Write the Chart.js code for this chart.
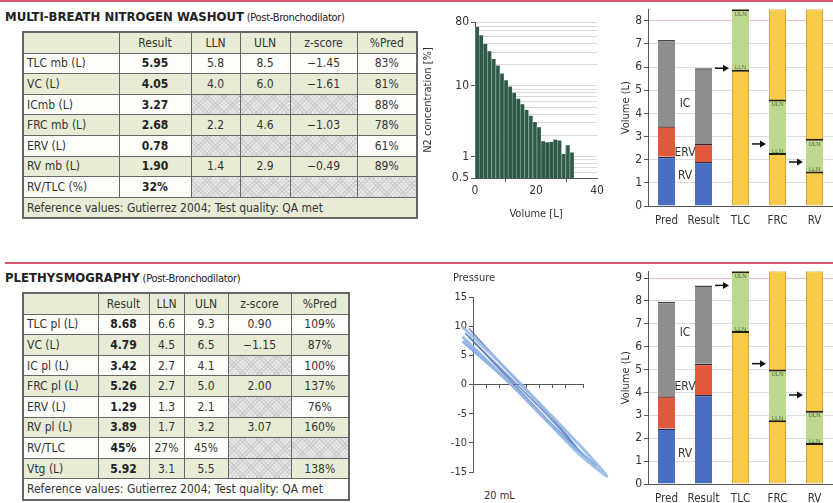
<!DOCTYPE html>
<html>
<head>
<meta charset="utf-8">
<script src="https://cdn.jsdelivr.net/npm/chart.js@4.4.0/dist/chart.umd.min.js"></script>
<style>
  body { margin: 0; width: 833px; height: 503px; position: relative; overflow: hidden; background: #fff;
         font-family: 'Liberation Sans Narrow', 'DejaVu Sans Condensed', 'Arial Narrow', sans-serif; color: #333; }
  .rule { position: absolute; height: 2px; background: #d9586e; }
  .title { position: absolute; left: 5px; font-size: 11px; letter-spacing: -0.3px; color: #222; white-space: nowrap; }
  .title b { font-weight: bold; font-size: 13px; letter-spacing: 0; }
  table { position: absolute; border-collapse: collapse; border: 2px solid #666; font-size: 12px; table-layout: fixed; }
  td { border: 1px solid #666; text-align: center; padding: 0; height: 19.6px; line-height: 18px; white-space: nowrap; overflow: hidden; }
  td.l { text-align: left; padding-left: 3px; }
  tr.g td { background: #e8ecd6; }
  tr.w td { background: #fdfdfa; }
  td.r { font-weight: bold; color: #222; }
  td.h { background: repeating-linear-gradient(45deg, #c8c8c8 0 1px, transparent 1px 3px),
                     repeating-linear-gradient(-45deg, #c8c8c8 0 1px, #f2f2f2 1px 3px) !important; }
  canvas { position: absolute; }
  .lbl { position: absolute; font-size: 11px; color: #333; }
</style>
</head>
<body>
<div class="rule" style="left:0;top:0;width:833px"></div>
<div class="title" style="top:9px"><b>MULTI-BREATH NITROGEN WASHOUT</b> (Post-Bronchodilator)</div>

<table style="left:22px;top:31px;width:396px">
  <colgroup><col style="width:96px"><col style="width:72px"><col style="width:49px"><col style="width:50px"><col style="width:67px"><col style="width:60px"></colgroup>
  <tr class="g"><td></td><td>Result</td><td>LLN</td><td>ULN</td><td>z-score</td><td>%Pred</td></tr>
  <tr class="w"><td class="l">TLC mb (L)</td><td class="r">5.95</td><td>5.8</td><td>8.5</td><td>−1.45</td><td>83%</td></tr>
  <tr class="g"><td class="l">VC (L)</td><td class="r">4.05</td><td>4.0</td><td>6.0</td><td>−1.61</td><td>81%</td></tr>
  <tr class="w"><td class="l">ICmb (L)</td><td class="r">3.27</td><td class="h"></td><td class="h"></td><td class="h"></td><td>88%</td></tr>
  <tr class="g"><td class="l">FRC mb (L)</td><td class="r">2.68</td><td>2.2</td><td>4.6</td><td>−1.03</td><td>78%</td></tr>
  <tr class="w"><td class="l">ERV (L)</td><td class="r">0.78</td><td class="h"></td><td class="h"></td><td class="h"></td><td>61%</td></tr>
  <tr class="g"><td class="l">RV mb (L)</td><td class="r">1.90</td><td>1.4</td><td>2.9</td><td>−0.49</td><td>89%</td></tr>
  <tr class="w"><td class="l">RV/TLC (%)</td><td class="r">32%</td><td class="h"></td><td class="h"></td><td class="h"></td><td class="h"></td></tr>
  <tr class="g"><td class="l" colspan="6">Reference values: Gutierrez 2004; Test quality: QA met</td></tr>
</table>

<div class="rule" style="left:5px;top:262px;width:828px"></div>
<div class="title" style="top:270px"><b>PLETHYSMOGRAPHY</b> (Post-Bronchodilator)</div>

<table style="left:22px;top:292px;width:328px">
  <colgroup><col style="width:75px"><col style="width:51px"><col style="width:35px"><col style="width:44px"><col style="width:63px"><col style="width:58px"></colgroup>
  <tr class="g"><td></td><td>Result</td><td>LLN</td><td>ULN</td><td>z-score</td><td>%Pred</td></tr>
  <tr class="w"><td class="l">TLC pl (L)</td><td class="r">8.68</td><td>6.6</td><td>9.3</td><td>0.90</td><td>109%</td></tr>
  <tr class="g"><td class="l">VC (L)</td><td class="r">4.79</td><td>4.5</td><td>6.5</td><td>−1.15</td><td>87%</td></tr>
  <tr class="w"><td class="l">IC pl (L)</td><td class="r">3.42</td><td>2.7</td><td>4.1</td><td class="h"></td><td>100%</td></tr>
  <tr class="g"><td class="l">FRC pl (L)</td><td class="r">5.26</td><td>2.7</td><td>5.0</td><td>2.00</td><td>137%</td></tr>
  <tr class="w"><td class="l">ERV (L)</td><td class="r">1.29</td><td>1.3</td><td>2.1</td><td class="h"></td><td>76%</td></tr>
  <tr class="g"><td class="l">RV pl (L)</td><td class="r">3.89</td><td>1.7</td><td>3.2</td><td>3.07</td><td>160%</td></tr>
  <tr class="w"><td class="l">RV/TLC</td><td class="r">45%</td><td>27%</td><td>45%</td><td class="h"></td><td class="h"></td></tr>
  <tr class="g"><td class="l">Vtg (L)</td><td class="r">5.92</td><td>3.1</td><td>5.5</td><td class="h"></td><td>138%</td></tr>
  <tr class="w"><td class="l" colspan="6">Reference values: Gutierrez 2004; Test quality: QA met</td></tr>
</table>

<canvas id="n2Chart" width="190" height="217" style="left:420px;top:8px"></canvas>
<canvas id="mbwVolChart" width="213" height="230" style="left:620px;top:0px"></canvas>
<canvas id="pressChart" width="200" height="205" style="left:420px;top:280px"></canvas>
<div class="lbl" style="left:453px;top:271px">Pressure</div>
<div class="lbl" style="left:484px;top:489px">20 mL</div>
<canvas id="plethVolChart" width="213" height="241" style="left:620px;top:262px"></canvas>

<script>
// Nitrogen washout: breath volume (L) and end-tidal N2 (%)
const n2Volume = [0.68, 2.03, 3.38, 4.73, 6.08, 7.43, 8.78, 10.13, 11.48, 12.83, 14.18, 15.53,
                  16.88, 18.23, 19.58, 20.93, 22.28, 23.63, 24.98, 26.33, 27.68, 29.03, 30.38, 31.73];
const n2Conc = [68, 52, 39, 31, 24, 19.5, 15, 12, 9.8, 8.0, 6.6, 5.5,
                4.6, 3.8, 3.1, 2.6, 1.65, 1.6, 1.62, 1.75, 1.7, 1.1, 1.45, 1.15];
const n2Ticks = [0.5, 0.6, 0.7, 0.8, 0.9, 1, 2, 3, 4, 5, 6, 7, 8, 9, 10, 20, 30, 40, 50, 60, 70, 80];
const n2Labels = [0.5, 1, 10, 80];

// Lung volume bars
const volCategories = ['Pred', 'Result', 'TLC', 'FRC', 'RV'];
const mbwRV = [2.13, 1.90];
const mbwERV = [1.31, 0.78];
const mbwIC = [3.73, 3.27];
const mbwLLN = [5.8, 2.2, 1.4];
const mbwULN = [8.5, 4.6, 2.9];
const mbwResult = [5.95, 2.68, 1.90];

const plethRV = [2.43, 3.89];
const plethERV = [1.41, 1.37];
const plethIC = [4.12, 3.42];
const plethLLN = [6.6, 2.7, 1.7];
const plethULN = [9.3, 5.0, 3.2];
const plethResult = [8.68, 5.26, 3.89];

// Plethysmograph pressure/volume loops
const loopAx = [-0.8, 2.0, 5.0, 8.0, 10.1, 8.0, 5.0, 2.0, -0.8];
const loopAy = [9.9, 3.8, -3.2, -10.3, -15.7, -11.9, -4.9, 2.0, 8.2];
const loopBx = [-0.6, 2.5, 5.5, 8.3, 5.5, 2.5, -0.6];
const loopBy = [8.8, 1.8, -5.0, -12.1, -6.0, 0.9, 7.6];
const loopCx = [-0.3, 3.0, 6.0, 7.8, 6.0, 3.0, -0.3];
const loopCy = [9.6, 1.4, -5.8, -10.8, -6.9, 0.2, 8.2];
const loopDx = [-0.8, 2.8, 6.5, 9.3];
const loopDy = [7.4, 0.2, -8.3, -14.0];

Chart.defaults.font.family = "'Liberation Sans Narrow', 'DejaVu Sans Condensed', 'Arial Narrow', sans-serif";
Chart.defaults.font.size = 12;
Chart.defaults.color = '#333';
Chart.defaults.animation = false;
Chart.defaults.responsive = false;
Chart.defaults.plugins.legend.display = false;
Chart.defaults.plugins.tooltip.enabled = false;

new Chart(document.getElementById('n2Chart'), {
    type: 'bar',
    data: {
        datasets: [{
            data: n2Volume.map((v, i) => ({ x: v, y: n2Conc[i] })),
            backgroundColor: '#2d5945',
            borderColor: '#6f9a85',
            borderWidth: { left: 1, top: 0, right: 0, bottom: 0 },
            borderSkipped: false,
            barPercentage: 1,
            categoryPercentage: 1
        }]
    },
    options: {
        layout: { padding: { top: 14, right: 13 } },
        scales: {
            x: {
                type: 'linear', min: 0, max: 40, offset: false,
                ticks: { stepSize: 20, padding: 2 },
                grid: { drawOnChartArea: false, tickLength: 4, color: '#555' },
                border: { color: '#555' },
                title: { display: true, text: 'Volume [L]', font: { size: 11 } },
                afterFit: s => { s.height = 47; }
            },
            y: {
                type: 'logarithmic', min: 0.5, max: 80,
                afterBuildTicks: s => { s.ticks = n2Ticks.map(v => ({ value: v })); },
                ticks: { autoSkip: false, padding: 2, callback: v => n2Labels.includes(v) ? String(v) : '' },
                grid: {
                    color: '#d9d9d9',
                    tickLength: 4,
                    tickColor: c => n2Labels.includes(c.tick && c.tick.value) ? '#555' : 'transparent'
                },
                border: { color: '#555' },
                title: { display: true, text: 'N2 concentration [%]', font: { size: 11 }, padding: 2 },
                afterFit: s => { s.width = 55; }
            }
        }
    }
});

// arrows, LLN/ULN marks and segment labels on the volume bars
const volumeMarks = {
    id: 'volumeMarks',
    afterDatasetsDraw(chart, args, opts) {
        const ctx = chart.ctx;
        const y = chart.scales.y;
        const yellow = chart.getDatasetMeta(4).data;
        ctx.save();
        for (let i = 0; i < 3; i++) {
            const el = yellow[i + 2];
            const left = el.x - el.width / 2;
            const py = y.getPixelForValue(opts.result[i]);
            ctx.strokeStyle = '#111';
            ctx.fillStyle = '#111';
            ctx.lineWidth = 1.5;
            ctx.beginPath();
            ctx.moveTo(left - 17, py);
            ctx.lineTo(left - 7, py);
            ctx.stroke();
            ctx.beginPath();
            ctx.moveTo(left - 3, py);
            ctx.lineTo(left - 9, py - 3.5);
            ctx.lineTo(left - 9, py + 3.5);
            ctx.closePath();
            ctx.fill();
            // tiny range labels
            ctx.font = '6px sans-serif';
            ctx.fillStyle = '#556b3a';
            ctx.textAlign = 'center';
            ctx.textBaseline = 'top';
            ctx.fillText('ULN', el.x, y.getPixelForValue(opts.uln[i]) + 2);
            ctx.textBaseline = 'bottom';
            ctx.fillText('LLN', el.x, y.getPixelForValue(opts.lln[i]) - 1);
        }
        const segs = chart.getDatasetMeta(0).data;
        const midX = ((segs[0].x + segs[0].width / 2) + (segs[1].x - segs[1].width / 2)) / 2;
        ctx.font = "12px 'Liberation Sans Narrow', 'DejaVu Sans Condensed', sans-serif";
        ctx.fillStyle = '#333';
        ctx.textAlign = 'center';
        ctx.textBaseline = 'middle';
        opts.labels.forEach(l => ctx.fillText(l.text, midX, y.getPixelForValue(l.at)));
        ctx.restore();
    }
};

function volumeChart(id, rv, erv, ic, lln, uln, result, yMax, xPad, xHeight, labels) {
    const base1 = [rv[0], rv[1]];
    const top2 = [rv[0] + erv[0], rv[1] + erv[1]];
    const seg = (a, b) => [[a[0], b[0]], [a[1], b[1]], null, null, null];
    const segBorder = { top: 1.5, left: 0, right: 0, bottom: 0 };
    return new Chart(document.getElementById(id), {
        type: 'bar',
        data: {
            labels: volCategories,
            datasets: [
                { data: seg([0, 0], base1), backgroundColor: '#4a6fc2', borderColor: '#2a2f55', borderWidth: segBorder, borderSkipped: false, order: 1 },
                { data: seg(base1, top2), backgroundColor: '#e2583c', borderColor: '#3a2222', borderWidth: segBorder, borderSkipped: false, order: 1 },
                { data: seg(top2, [top2[0] + ic[0], top2[1] + ic[1]]), backgroundColor: '#8e8e8e', borderColor: '#444', borderWidth: segBorder, borderSkipped: false, order: 1 },
                { data: [null, null, [lln[0], uln[0]], [lln[1], uln[1]], [lln[2], uln[2]]], backgroundColor: '#bcd88f', borderColor: '#1e1e1e', borderWidth: { top: 2, bottom: 2, left: 0, right: 0 }, borderSkipped: false, order: 1 },
                { data: [null, null, [0, yMax], [0, yMax], [0, yMax]], backgroundColor: '#f8cb48', borderColor: '#d7a43c', borderWidth: 1, borderSkipped: false, order: 2 }
            ]
        },
        options: {
            layout: { padding: { top: 7, right: 0 } },
            datasets: { bar: { barPercentage: 0.46, categoryPercentage: 1 } },
            scales: {
                x: {
                    stacked: true,
                    grid: { display: false },
                    border: { color: '#555' },
                    ticks: { padding: xPad, maxRotation: 0, minRotation: 0, autoSkip: false, font: { size: 11.5 } },
                    afterFit: s => { s.height = xHeight; }
                },
                y: {
                    stacked: false, min: 0, max: yMax,
                    ticks: { stepSize: 1, includeBounds: false, padding: 2 },
                    grid: {
                        color: c => (c.tick && c.tick.value === Math.floor(yMax)) ? '#f2bcc5' : '#dcdcdc',
                        tickLength: 4, tickColor: '#555'
                    },
                    border: { color: '#555' },
                    title: { display: true, text: 'Volume (L)', font: { size: 11 }, padding: 0 },
                    afterFit: s => { s.width = 28; }
                }
            },
            plugins: { volumeMarks: { result, lln, uln, labels } }
        },
        plugins: [volumeMarks]
    });
}

volumeChart('mbwVolChart', mbwRV, mbwERV, mbwIC, mbwLLN, mbwULN, mbwResult, 8.5, 0, 24,
    [{ text: 'IC', at: 4.4 }, { text: 'ERV', at: 2.3 }, { text: 'RV', at: 1.28 }]);
volumeChart('plethVolChart', plethRV, plethERV, plethIC, plethLLN, plethULN, plethResult, 9.3, 0, 19,
    [{ text: 'IC', at: 6.6 }, { text: 'ERV', at: 4.24 }, { text: 'RV', at: 1.3 }]);

const loop = (xs, ys, color, width) => ({
    data: xs.map((x, i) => ({ x, y: ys[i] })),
    showLine: true, borderColor: color, borderWidth: width, pointRadius: 0, clip: false, tension: 0.2
});

new Chart(document.getElementById('pressChart'), {
    type: 'scatter',
    data: {
        datasets: [
            loop(loopAx, loopAy, 'rgba(150,185,230,0.9)', 3),
            loop(loopDx, loopDy, 'rgba(125,165,222,0.9)', 2.5),
            loop(loopBx, loopBy, 'rgba(95,130,200,0.85)', 1.8),
            loop(loopCx, loopCy, 'rgba(70,100,170,0.8)', 1.4)
        ]
    },
    options: {
        layout: { padding: { top: 17, right: 37, bottom: 13 } },
        scales: {
            x: {
                type: 'linear', min: 0, max: 8.3, position: { y: 0 },
                ticks: { stepSize: 1, callback: () => '' },
                grid: { drawOnChartArea: false, tickLength: 3, color: '#555' },
                border: { color: '#555' }
            },
            y: {
                min: -15, max: 15,
                ticks: { stepSize: 5, font: { size: 11 }, padding: 2 },
                grid: { drawOnChartArea: false, tickLength: 4, color: '#555' },
                border: { color: '#555' },
                afterFit: s => { s.width = 53; }
            }
        }
    }
});
</script>
</body>
</html>
